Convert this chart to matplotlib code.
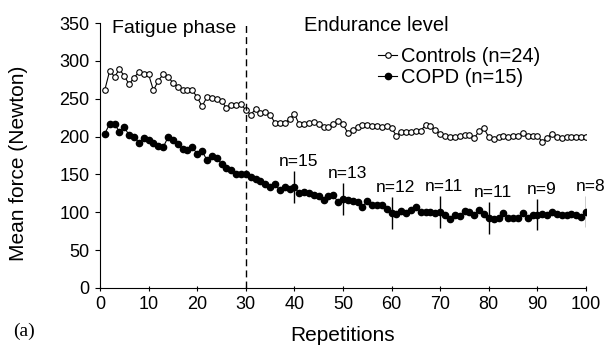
import numpy as np
import matplotlib.pyplot as plt

plt.rcParams['font.family'] = ['Liberation Sans', 'DejaVu Sans']

# repetitions 1..100
reps = np.arange(1, 101)

# mean force, controls (open circles)
controls = [262, 287, 279, 289, 280, 269, 278, 285, 283, 282,
            261, 274, 282, 279, 271, 266, 261, 261, 261, 252,
            240, 252, 251, 249, 247, 238, 242, 242, 243, 235,
            229, 236, 231, 233, 229, 218, 218, 218, 223, 230,
            216, 216, 218, 219, 217, 213, 213, 217, 220, 216,
            205, 209, 212, 215, 215, 214, 214, 213, 214, 211,
            201, 206, 206, 206, 207, 208, 215, 214, 209, 203,
            201, 200, 200, 201, 202, 202, 198, 207, 211, 199,
            197, 199, 201, 200, 201, 201, 205, 201, 201, 201,
            193, 198, 204, 200, 198, 199, 200, 200, 199, 199]

# mean force, COPD (filled circles)
copd = [204, 217, 217, 206, 212, 202, 200, 192, 198, 196,
        192, 188, 186, 199, 195, 190, 183, 182, 186, 177,
        181, 169, 174, 172, 164, 158, 156, 151, 150, 150,
        147, 144, 141, 138, 133, 137, 129, 133, 131, 133,
        125, 127, 125, 123, 121, 116, 121, 123, 113, 118,
        116, 115, 113, 107, 115, 110, 109, 109, 105, 99,
        98, 102, 99, 103, 107, 101, 100, 100, 99, 100,
        96, 91, 97, 95, 102, 100, 97, 103, 98, 92,
        91, 93, 99, 93, 93, 93, 99, 93, 97, 97,
        98, 96, 100, 98, 96, 96, 98, 97, 94, 101]

# sample size remaining at selected repetitions
n_reps = [40, 50, 60, 70, 80, 90, 100]
n_labels = ['n=15', 'n=13', 'n=12', 'n=11', 'n=11', 'n=9', 'n=8']
n_err = [21, 21, 21, 21, 21, 21, 21]

fig = plt.figure(figsize=(6.11, 3.53), dpi=100)
ax = fig.add_axes([100 / 611, 65 / 353, 486 / 611, 265 / 353])

ax.plot(reps, controls, '-o', color='black', mfc='white', mec='black',
        ms=4, mew=0.8, lw=0.8, label='Controls (n=24)')
ax.plot(reps, copd, '-o', color='black', ms=4.5, lw=0.8,
        label='COPD (n=15)')

# error bars with n labels
for r, lab, e in zip(n_reps, n_labels, n_err):
    v = copd[r - 1]
    ax.vlines(r, v - e, v + e, color='black', lw=1)
    ax.annotate(lab, (r, v + e), xytext=(3, 1.5), textcoords='offset points',
                ha='center', va='bottom', fontsize=12.5)

# phase divider
ax.axvline(30, color='black', lw=1, ls=(0, (5, 3)))
ax.text(2.5, 343, 'Fatigue phase', fontsize=14, va='center', ha='left')
ax.text(42, 347, 'Endurance level', fontsize=14.5, va='center', ha='left')

ax.set_xlim(0, 100)
ax.set_ylim(0, 350)
ax.set_xticks(np.arange(0, 101, 10))
ax.set_yticks(np.arange(0, 351, 50))
ax.spines['top'].set_visible(False)
ax.spines['right'].set_visible(False)
ax.spines['left'].set_linewidth(0.8)
ax.spines['bottom'].set_linewidth(0.8)
ax.tick_params(axis='y', direction='out', length=3.6, width=0.8,
               labelsize=13, pad=4)
ax.tick_params(axis='x', direction='inout', length=3.6, width=0.8,
               labelsize=13, pad=4)

ax.set_xlabel('Repetitions', fontsize=15)
ax.set_ylabel('Mean force (Newton)', fontsize=15)
ax.xaxis.set_label_coords(0.5, -0.145)
ax.yaxis.set_label_coords(-0.148, 0.47)

ax.legend(loc='upper left', bbox_to_anchor=(378 / 611, 1 - 47 / 353),
          bbox_transform=fig.transFigure, frameon=False, fontsize=14.5,
          handlelength=0.95, handletextpad=0.2, labelspacing=0.1,
          borderpad=0, borderaxespad=0, numpoints=1)

fig.text(13 / 611, 22 / 353, '(a)', fontsize=14, family='Liberation Serif',
         va='center', ha='left')

fig.savefig('out.png', dpi=100)
